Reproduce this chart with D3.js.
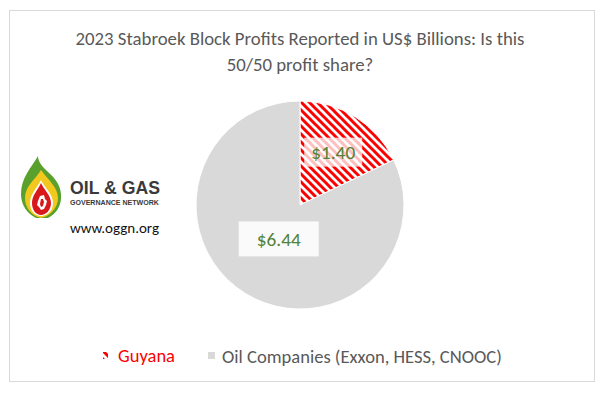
<!DOCTYPE html>
<html><head><meta charset="utf-8">
<script src="https://cdn.jsdelivr.net/npm/d3@7"></script>
<style>html,body{margin:0;padding:0;background:#fff}svg{display:block}</style>
</head><body>
<script>
const categories = ["Guyana", "Oil Companies (Exxon, HESS, CNOOC)"];
const values = [1.40, 6.44];
const titleLines = ["2023 Stabroek Block Profits Reported in US$ Billions: Is this", "50/50 profit share?"];
const logoLines = ["OIL & GAS", "GOVERNANCE NETWORK", "www.oggn.org"];

const W = 605, H = 393;
const FONT = "Carlito, Calibri, Lato, 'Open Sans', sans-serif";
const svg = d3.select("body").append("svg").attr("width", W).attr("height", H);

function fit(sel, target) {
  const fs = parseFloat(sel.attr("font-size"));
  const w = sel.node().getComputedTextLength();
  sel.attr("font-size", fs * target / w);
}

const defs = svg.append("defs");
const pat = defs.append("pattern").attr("id", "stripes").attr("patternUnits", "userSpaceOnUse")
  .attr("width", 8).attr("height", 8);
pat.append("rect").attr("width", 8).attr("height", 8).attr("fill", "#fff");
pat.append("path").attr("d", "M-2,-2L10,10M-2,6L2,10M6,-2L10,2")
  .attr("stroke", "#ff0000").attr("stroke-width", 3);

// chart border
svg.append("rect").attr("x", 9.5).attr("y", 10.5).attr("width", 585).attr("height", 371)
  .attr("fill", "#fff").attr("stroke", "#d9d9d9").attr("stroke-width", 1);

// title
titleLines.forEach((t, i) => {
  const tx = svg.append("text").attr("x", 300).attr("y", 45 + i * 26)
    .attr("text-anchor", "middle").attr("font-family", FONT).attr("font-size", 18.67)
    .attr("fill", "#595959").text(t);
  if (i === 0) fit(tx, 449);
  else tx.attr("font-size", svg.select("text").attr("font-size"));
});

// pie
const colors = ["url(#stripes)", "#d9d9d9"];
const cx = 300, cy = 205, R = 104;
const pie = d3.pie().sort(null).value(d => d)(values);
const arc = d3.arc().innerRadius(0).outerRadius(R);
const g = svg.append("g").attr("transform", `translate(${cx},${cy})`);
g.selectAll("path.slice").data(pie).join("path").attr("class", "slice")
  .attr("d", arc).attr("fill", (d, i) => colors[i])
  .attr("stroke", "#fff").attr("stroke-width", 1);

// data labels
const labelR = [0.6, 0.385];
const boxSize = [[58, 29], [80, 35]];
pie.forEach((d, i) => {
  const la = d3.arc().innerRadius(R * labelR[i] * 2 / 2).outerRadius(R * labelR[i]);
  const a = (d.startAngle + d.endAngle) / 2;
  const x = Math.sin(a) * R * labelR[i], y = -Math.cos(a) * R * labelR[i];
  g.append("rect").attr("x", x - boxSize[i][0] / 2).attr("y", y - boxSize[i][1] / 2)
    .attr("width", boxSize[i][0]).attr("height", boxSize[i][1])
    .attr("fill", "#fff").attr("fill-opacity", i === 0 ? 0.75 : 0.85);
  const t = g.append("text").attr("x", x).attr("y", y).attr("dy", "0.35em")
    .attr("text-anchor", "middle").attr("font-family", FONT).attr("font-size", 18.67)
    .attr("fill", "#548235").text("$" + d.data.toFixed(2));
  fit(t, 44);
});

// legend
const lg = svg.append("g");
const legX = [103, 208], legT = [118, 222], legW = [57, 280];
categories.forEach((c, i) => {
  lg.append("rect").attr("x", legX[i]).attr("y", 352).attr("width", i === 0 ? 5 : 7).attr("height", 7)
    .attr("fill", colors[i]);
  const t = lg.append("text").attr("x", legT[i]).attr("y", 356).attr("dy", "0.35em")
    .attr("font-family", FONT).attr("font-size", 16)
    .attr("fill", i === 0 ? "#ff0000" : "#595959").text(c);
  fit(t, legW[i]);
});

// logo
const logo = svg.append("g");
logo.append("path").attr("fill", "#5aa02c")
  .attr("d", "M38,156 C31,168 21,178 21,194 C21,206 28,214 36,218 L48,218 C56,214 62,206 61,194 C60,182 52,176 46,170 C41,165 38,161 38,156 Z");
logo.append("path").attr("fill", "#f2c81e")
  .attr("d", "M41,170 C35,180 25,186 25,198 C25,208 32,216 41,218 C50,216 58,208 58,198 C58,187 48,180 41,170 Z");
logo.append("path").attr("fill", "#fff")
  .attr("d", "M41,180 C37,188 30,194 30,203 C30,211 35,216 41,216 C47,216 53,211 53,203 C53,194 45,188 41,180 Z");
logo.append("path").attr("fill", "#d7191c")
  .attr("d", "M41,183 C38,190 32,195 32,203 C32,210 36,215 41,215 C46,215 51,210 51,203 C51,195 44,190 41,183 Z");
logo.append("path").attr("fill", "#fff")
  .attr("d", "M40,196 L44,195 L45,199 L47,201 L46,205 L44,209 L41,210 L39,207 L37,205 L38,201 Z");
logo.append("path").attr("fill", "#d7191c")
  .attr("d", "M41,199 L43,199 L44,202 L43,206 L41,207 L40,204 Z");

const t1 = logo.append("text").attr("x", 70).attr("y", 194).attr("font-family", "'Liberation Sans', Arial, sans-serif")
  .attr("font-weight", "bold").attr("font-size", 19).attr("fill", "#3a3a3a").text(logoLines[0]);
fit(t1, 90);
const t2 = logo.append("text").attr("x", 70).attr("y", 204.5).attr("font-family", "'Liberation Sans', Arial, sans-serif")
  .attr("font-weight", "bold").attr("font-size", 7).attr("fill", "#3a3a3a").text(logoLines[1]);
fit(t2, 89);
const t3 = logo.append("text").attr("x", 70).attr("y", 233).attr("font-family", FONT)
  .attr("font-size", 14).attr("fill", "#111").text(logoLines[2]);
fit(t3, 89);
</script>
</body></html>
